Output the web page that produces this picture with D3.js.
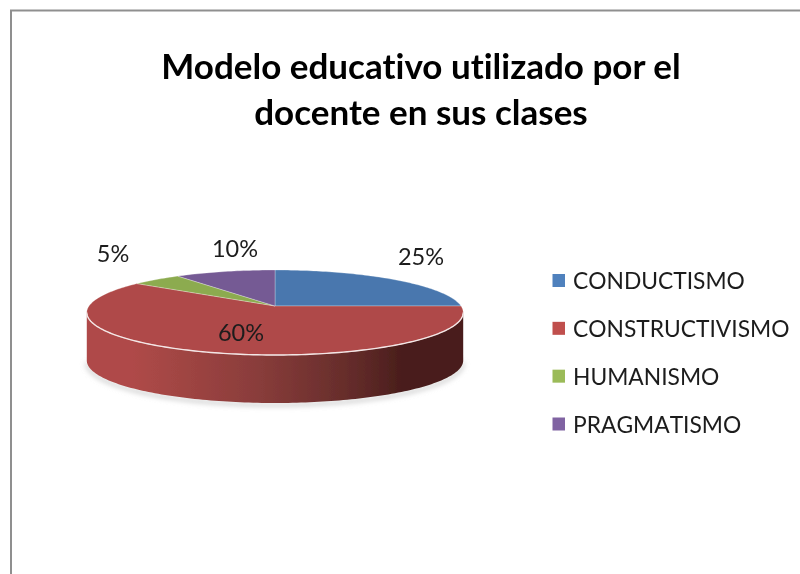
<!DOCTYPE html>
<html>
<head>
<meta charset="utf-8">
<script src="https://cdn.jsdelivr.net/npm/d3@7"></script>
<style>html,body{margin:0;padding:0;background:#fff}svg{display:block}text{font-variant-ligatures:none}</style>
</head>
<body>
<div id="chart"></div>
<script>
const categories = ["CONDUCTISMO", "CONSTRUCTIVISMO", "HUMANISMO", "PRAGMATISMO"];
const seriesValues = [25, 60, 5, 10];
const sliceLabels = ["25%", "60%", "5%", "10%"];
const titleLines = ["Modelo educativo utilizado por el", "docente en sus clases"];
const faceColors = ["#4877AE", "#AF4A48", "#8CAB4F", "#755A94"];
const legendColors = ["#4F81BD", "#C0504D", "#9BBB59", "#8064A2"];

const W = 800, H = 574;
const svg = d3.select("#chart").append("svg").attr("width", W).attr("height", H);
const defs = svg.append("defs");
const soft = defs.append("filter").attr("id", "soft");
soft.append("feGaussianBlur").attr("stdDeviation", 0.45);
const sh = defs.append("filter").attr("id", "shadow").attr("x", "-10%").attr("y", "-30%").attr("width", "120%").attr("height", "160%");
sh.append("feGaussianBlur").attr("stdDeviation", 2.5);
const g = defs.append("linearGradient").attr("id", "wall").attr("gradientUnits", "userSpaceOnUse")
  .attr("x1", 87).attr("x2", 461).attr("y1", 0).attr("y2", 0);
[[0, "#AF4A48"], [0.12, "#AF4A48"], [0.45, "#8A3D3B"], [0.72, "#622B29"], [0.84, "#4A1E1C"], [1, "#4A1E1C"]]
  .forEach(([o, c]) => g.append("stop").attr("offset", o).attr("stop-color", c));

// frame
svg.append("path").attr("d", `M11 ${H}V10.5H${W}`).attr("fill", "none").attr("stroke", "#8f8f8f").attr("stroke-width", 2);

// title
svg.append("g").selectAll("text").data(titleLines).join("text")
  .attr("x", 421).attr("y", (d, i) => 79 + i * 46)
  .attr("text-anchor", "middle")
  .attr("font-family", "Lato").attr("font-weight", 700).attr("font-size", 35)
  .attr("fill", "#000").attr("filter", "url(#soft)")
  .text(d => d);

// perspective disc projection
const cx = 275, cy = 306, depth = 48, B = 186, A = 41.5, m = 0.153;
const project = a => {
  const u = Math.sin(a), v = -Math.cos(a), k = 1 - m * v;
  return [cx + B * u / k, cy + A * v / k];
};
const pie = d3.pie().sort(null).value(d => d)(seriesValues);
const line = d3.line();
const arcSamples = (a0, a1) => {
  const n = Math.max(2, Math.ceil((a1 - a0) / 0.02));
  return d3.range(n + 1).map(i => a0 + (a1 - a0) * i / n);
};

// wall spans the front of the disc, between its two widest points
const aR = Math.acos(-m), aL = 2 * Math.PI - aR;
const rim = arcSamples(aR, aL).map(project);
const wallPts = rim.concat(rim.slice().reverse().map(p => [p[0], p[1] + depth]));
const plot = svg.append("g").attr("filter", "url(#soft)");
plot.append("path").attr("d", line(rim.map(p => [p[0], p[1] + depth + 2])) )
  .attr("fill", "none").attr("stroke", "#c8c8c8").attr("stroke-width", 3).attr("filter", "url(#shadow)");
plot.append("path").attr("d", line(wallPts) + "Z").attr("fill", "url(#wall)");

// top faces
plot.append("g").selectAll("path").data(pie).join("path")
  .attr("d", d => line([[cx, cy]].concat(arcSamples(d.startAngle, d.endAngle).map(project))) + "Z")
  .attr("fill", (d, i) => faceColors[i])
  .attr("stroke", "#fff").attr("stroke-opacity", 0.35).attr("stroke-width", 0.8).attr("stroke-linejoin", "round");
// bright front rim
plot.append("path").attr("d", line(rim)).attr("fill", "none").attr("stroke", "#f4e6e6").attr("stroke-width", 1.4);

// slice labels
const labelPos = [[421, 265], [241, 341], [113, 262], [235, 257]];
svg.append("g").selectAll("text").data(sliceLabels).join("text")
  .attr("x", (d, i) => labelPos[i][0]).attr("y", (d, i) => labelPos[i][1])
  .attr("text-anchor", "middle")
  .attr("font-family", "Lato").attr("font-size", 23.5)
  .attr("fill", "#1c1c1c").attr("filter", "url(#soft)")
  .text(d => d);

// legend
const ly = d3.scalePoint().domain(categories).range([280.5, 424]);
const leg = svg.append("g").selectAll("g").data(categories).join("g")
  .attr("transform", d => `translate(0,${ly(d)})`).attr("filter", "url(#soft)");
leg.append("rect").attr("x", 552.5).attr("y", -6.5).attr("width", 12.5).attr("height", 13)
  .attr("fill", (d, i) => legendColors[i]);
leg.append("text").attr("x", 573).attr("y", 8.5)
  .attr("font-family", "Lato").attr("font-size", 22.8).attr("fill", "#1c1c1c")
  .style("font-kerning", "none")
  .text(d => d);
</script>
</body>
</html>
